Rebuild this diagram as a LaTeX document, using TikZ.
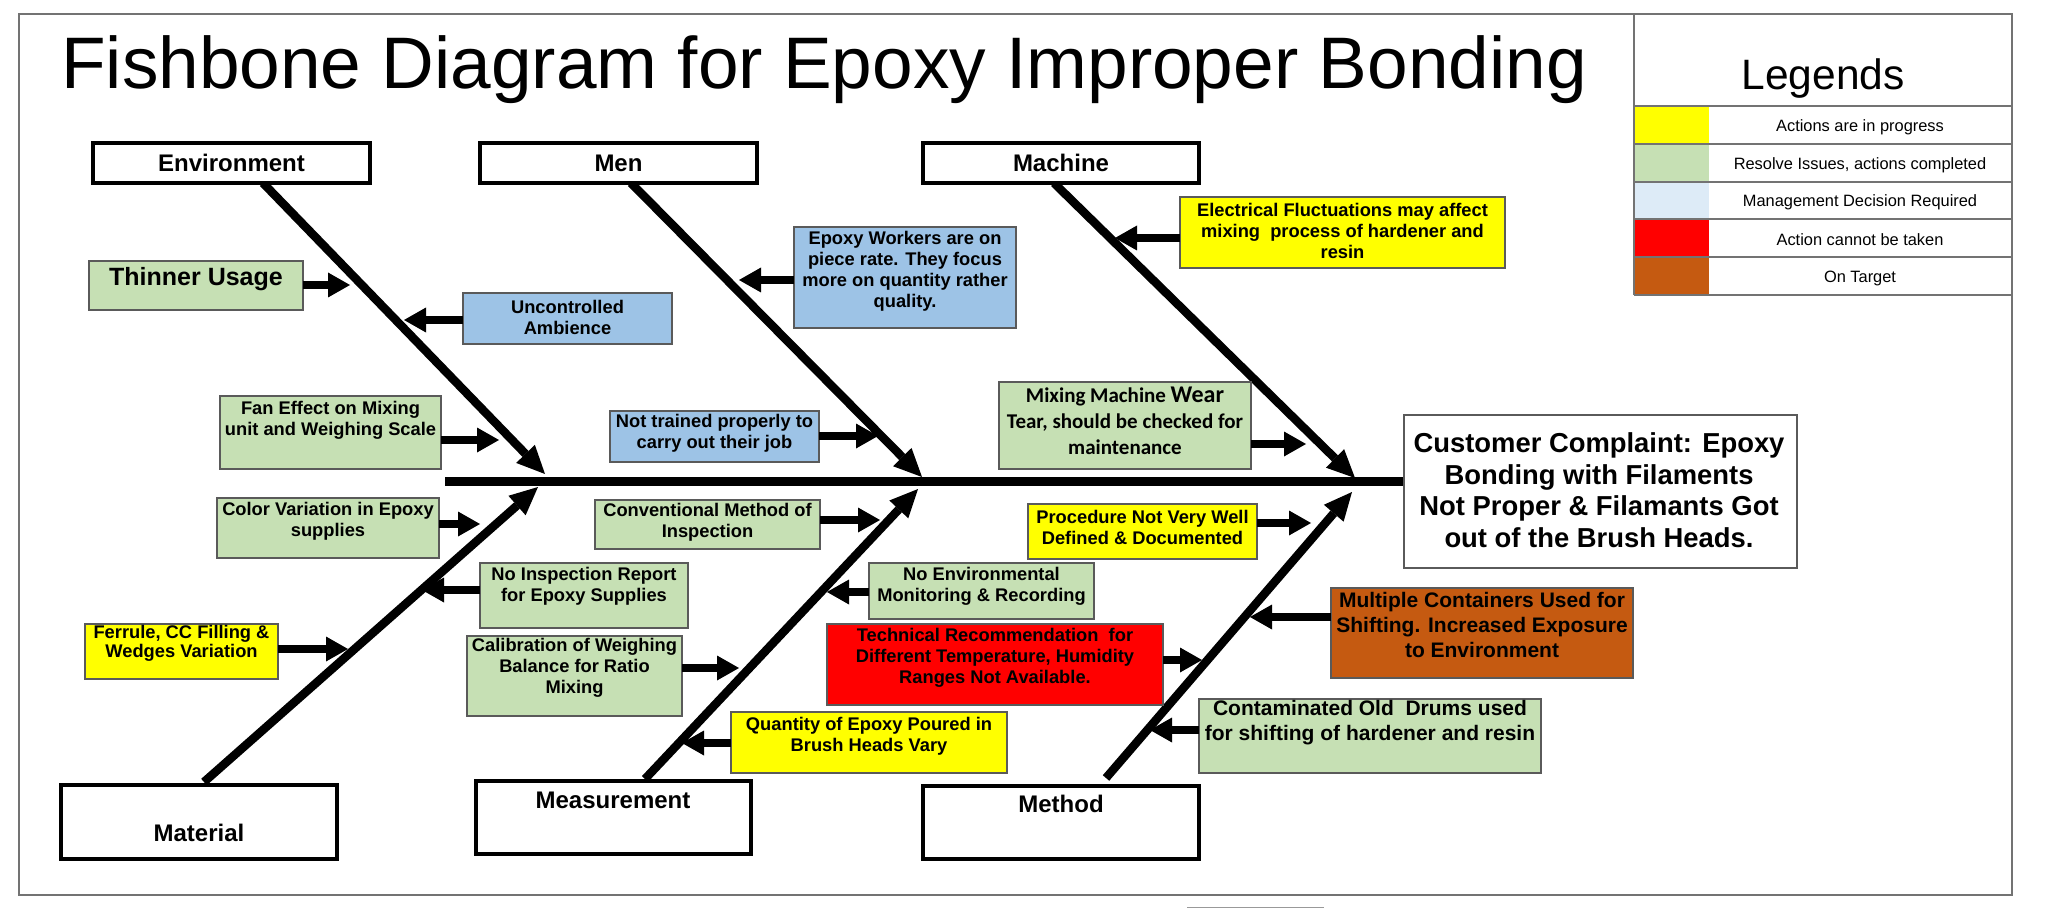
\documentclass[tikz,border=0pt]{standalone}
\usepackage{fontspec}
\setmainfont{Liberation Sans}
\newfontfamily\carlito{Carlito}
\usetikzlibrary{arrows.meta}
\definecolor{cgreen}{HTML}{C6E0B4}
\definecolor{cblue}{HTML}{9DC3E6}
\definecolor{cyellow}{HTML}{FFFF00}
\definecolor{cred}{HTML}{FF0000}
\definecolor{cbrown}{HTML}{C55A11}
\definecolor{clight}{HTML}{DDEBF7}
\definecolor{cedge}{HTML}{5A5A5A}
\tikzset{
 cbox/.style={draw=cedge, line width=1.3pt, inner sep=0pt, outer sep=0pt},
 ctext/.style={font=\bfseries\fontsize{18.3}{21}\selectfont, align=center, inner sep=0pt},
 catbox/.style={draw=black, line width=4.5pt, fill=white, inner sep=0pt, outer sep=0pt, anchor=north west},
 cattext/.style={font=\bfseries\fontsize{24}{28}\selectfont, inner sep=0pt},
 bone/.style={line width=8.5pt, -{Triangle[length=28pt,width=26pt,line width=0pt]}},
 carrow/.style={line width=8.5pt, -{Triangle[length=22pt,width=25pt,line width=0pt]}},
 legline/.style={draw=black!55, line width=1.3pt},
 legtext/.style={font=\fontsize{16.4}{19}\selectfont, inner sep=0pt},
}
\newcommand\cbx[9]{%
  \node[cbox,fill=#6,minimum width=#4-#2,minimum height=#5-#3,anchor=north west] (#1) at (#2,#3) {};
  \node[ctext,#9] (#1t) at ({(#2+#4)/2},#7) {#8};}
\newcommand\catb[8]{%
  \node[catbox,minimum width=#4-#2,minimum height=#5-#3] (#1) at (#2,#3) {};
  \node[cattext] (#1t) at (#6,#7) {#8};}
\newcommand\carr[3]{\coordinate (#1a) at (#3); \draw[carrow] (#1.#2 |- #1a) -- (#1a);}
\begin{document}
\begin{tikzpicture}[x=1pt,y=-1pt]
\useasboundingbox (0,0) rectangle (2048,909);
\fill[white] (0,0) rectangle (2048,909);
% frame
\draw[draw=black!55, line width=1.5pt] (19,14) rectangle (2012,895);
\draw[draw=black!40, line width=1pt] (1187,907.5) -- (1324,907.5);
% title
\node[anchor=base west, inner sep=0pt, font=\fontsize{73}{80}\selectfont] (title) at (61,89) {Fishbone Diagram for Epoxy Improper Bonding};
% legend
\fill[cyellow] (1634,106) rectangle (1709,144);
\fill[cgreen] (1634,144) rectangle (1709,182);
\fill[clight] (1634,182) rectangle (1709,219);
\fill[cred] (1634,219) rectangle (1709,257);
\fill[cbrown] (1634,257) rectangle (1709,295);
\draw[legline] (1634,14) -- (1634,295);
\foreach \yy in {106,144,182,219,257,295} \draw[legline] (1634,\yy) -- (2012,\yy);
\node[anchor=base, inner sep=0pt, font=\fontsize{42.5}{46}\selectfont] (legh) at (1823,90) {Legends};
\node[legtext] (leg1) at (1860,127) {Actions are in progress};
\node[legtext] (leg2) at (1860,165) {Resolve Issues, actions completed};
\node[legtext] (leg3) at (1860,202.5) {Management Decision Required};
\node[legtext] (leg4) at (1860,240) {Action cannot be taken};
\node[legtext] (leg5) at (1860,278) {On Target};
% effect box
\node[draw=cedge, line width=1.5pt, fill=white, minimum width=393, minimum height=153, anchor=north west, inner sep=0pt] (eff) at (1403,414) {};
\node[font=\bfseries\fontsize{27.4}{31.5}\selectfont, align=center, inner sep=0pt] (efft) at (1599,490) {Customer Complaint: Epoxy\\Bonding with Filaments\\Not Proper \& Filamants Got\\out of the Brush Heads.};
% spine
\coordinate (spL) at (445,481);
\draw[line width=9pt] (spL) -- (spL -| eff.west);
% bones
\coordinate (envS) at (263,183); \coordinate (envT) at (545,474);
\coordinate (menS) at (631,183); \coordinate (menT) at (922,477);
\coordinate (macS) at (1054,183); \coordinate (macT) at (1355,478);
\coordinate (matS) at (204,782); \coordinate (matT) at (538,487);
\coordinate (measS) at (645,779); \coordinate (measT) at (918,489);
\coordinate (metS) at (1106,778); \coordinate (metT) at (1352,492);
\foreach \b in {env,men,mac,mat,meas,met} \draw[bone] (\b S) -- (\b T);
% category boxes
\catb{cenv}{93}{143}{370}{183}{231.5}{163}{Environment}
\catb{cmen}{480}{143}{757}{183}{618.5}{163}{Men}
\catb{cmac}{923}{143}{1199}{183}{1061}{163}{Machine}
\catb{cmat}{61}{785}{337}{859}{199}{833}{Material}
\catb{cmea}{476}{781}{751}{854}{613}{800}{Measurement}
\catb{cmet}{923}{786}{1199}{859}{1061}{804}{Method}
% causes
\cbx{thin}{89}{261}{303}{310}{cgreen}{279}{Thinner Usage}{font=\bfseries\fontsize{25}{28}\selectfont}
\cbx{unc}{463}{293}{672}{344}{cblue}{317}{Uncontrolled\\Ambience}{}
\cbx{fan}{220}{396}{441}{469}{cgreen}{420}{Fan Effect on Mixing\\unit and Weighing Scale}{}
\cbx{ntr}{610}{411}{819}{462}{cblue}{433}{Not trained properly to\\carry out their job}{}
\cbx{epw}{794}{227}{1016}{328}{cblue}{271}{Epoxy Workers are on\\piece rate. They focus\\more on quantity rather\\quality.}{}
\cbx{ele}{1180}{197}{1505}{268}{cyellow}{231}{Electrical Fluctuations may affect\\mixing \ process of hardener and\\resin}{}
\cbx{mix}{999}{382}{1251}{469}{cgreen}{421}{Mixing Machine {\fontsize{24}{26}\selectfont Wear}\\Tear, should be checked for\\maintenance}{font=\carlito\bfseries\fontsize{21}{26}\selectfont}
\cbx{col}{217}{498}{439}{558}{cgreen}{521}{Color Variation in Epoxy\\supplies}{}
\cbx{nir}{480}{563}{688}{628}{cgreen}{586}{No Inspection Report\\for Epoxy Supplies}{}
\cbx{fer}{85}{624}{278}{679}{cyellow}{643}{Ferrule, CC Filling \&\\Wedges Variation}{font=\bfseries\fontsize{18.3}{19}\selectfont}
\cbx{con}{595}{500}{820}{549}{cgreen}{522}{Conventional Method of\\Inspection}{}
\cbx{cal}{467}{636}{682}{716}{cgreen}{668}{Calibration of Weighing\\Balance for Ratio\\Mixing}{}
\cbx{qua}{731}{712}{1007}{773}{cyellow}{736}{Quantity of Epoxy Poured in\\Brush Heads Vary}{}
\cbx{nem}{869}{563}{1094}{619}{cgreen}{586}{No Environmental\\Monitoring \& Recording}{}
\cbx{pro}{1028}{504}{1257}{559}{cyellow}{527}{Procedure Not Very Well\\Defined \& Documented}{}
\cbx{tec}{827}{624}{1163}{705}{cred}{658}{Technical Recommendation \ for\\Different Temperature, Humidity\\Ranges Not Available.}{}
\cbx{mul}{1331}{588}{1633}{678}{cbrown}{625}{Multiple Containers Used for\\Shifting. Increased Exposure\\to Environment}{font=\bfseries\fontsize{21}{25}\selectfont}
\cbx{cnt}{1199}{699}{1541}{773}{cgreen}{723}{Contaminated Old \ Drums used\\for shifting of hardener and resin}{font=\bfseries\fontsize{21}{25}\selectfont}
% cause arrows
\carr{thin}{east}{350,285}
\carr{unc}{west}{404,320}
\carr{fan}{east}{499,440}
\carr{ntr}{east}{878,436}
\carr{epw}{west}{739,280}
\carr{ele}{west}{1115,238}
\carr{mix}{east}{1306,444}
\carr{col}{east}{480,524}
\carr{nir}{west}{422,590}
\carr{fer}{east}{348,649}
\carr{con}{east}{880,520}
\carr{cal}{east}{739,668}
\carr{qua}{west}{682,743}
\carr{nem}{west}{827,592}
\carr{pro}{east}{1311,523}
\carr{tec}{east}{1202,660}
\carr{mul}{west}{1250,617}
\carr{cnt}{west}{1150,730}
\end{tikzpicture}
\end{document}
